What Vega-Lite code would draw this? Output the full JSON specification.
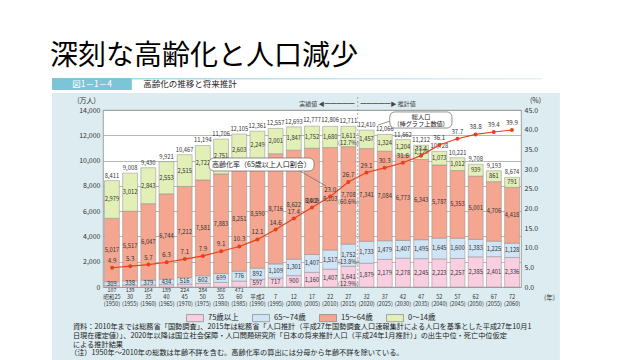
{
  "$schema": "https://vega.github.io/schema/vega-lite/v6.json",
  "width": 418,
  "height": 177,
  "autosize": {"type": "none"},
  "padding": {"left": 103, "top": 110, "right": 119, "bottom": 73},
  "background": "#dcecf0",
  "title": {"text": "深刻な高齢化と人口減少", "anchor": "start", "frame": "group", "dx": -53, "offset": 0, "dy": 71, "fontSize": 28, "fontWeight": "normal", "color": "#000000", "font": "Noto Sans CJK JP"},
  "config": {
    "font": "Noto Sans CJK JP",
    "view": {"fill": "white", "stroke": "#8a8a8a", "strokeWidth": 0.8},
    "text": {"font": "Noto Sans CJK JP"}
  },
  "datasets": {
    "one": [{}],
    "pop": [
      {"year":"1950","age":"75歳以上","v":107},{"year":"1950","age":"65～74歳","v":309},{"year":"1950","age":"15～64歳","v":5017},{"year":"1950","age":"0～14歳","v":2979},
      {"year":"1955","age":"75歳以上","v":139},{"year":"1955","age":"65～74歳","v":338},{"year":"1955","age":"15～64歳","v":5517},{"year":"1955","age":"0～14歳","v":3012},
      {"year":"1960","age":"75歳以上","v":164},{"year":"1960","age":"65～74歳","v":379},{"year":"1960","age":"15～64歳","v":6047},{"year":"1960","age":"0～14歳","v":2843},
      {"year":"1965","age":"75歳以上","v":189},{"year":"1965","age":"65～74歳","v":434},{"year":"1965","age":"15～64歳","v":6744},{"year":"1965","age":"0～14歳","v":2553},
      {"year":"1970","age":"75歳以上","v":224},{"year":"1970","age":"65～74歳","v":516},{"year":"1970","age":"15～64歳","v":7212},{"year":"1970","age":"0～14歳","v":2515},
      {"year":"1975","age":"75歳以上","v":284},{"year":"1975","age":"65～74歳","v":602},{"year":"1975","age":"15～64歳","v":7581},{"year":"1975","age":"0～14歳","v":2722},
      {"year":"1980","age":"75歳以上","v":366},{"year":"1980","age":"65～74歳","v":699},{"year":"1980","age":"15～64歳","v":7883},{"year":"1980","age":"0～14歳","v":2751},
      {"year":"1985","age":"75歳以上","v":471},{"year":"1985","age":"65～74歳","v":776},{"year":"1985","age":"15～64歳","v":8251},{"year":"1985","age":"0～14歳","v":2603},
      {"year":"1990","age":"75歳以上","v":597},{"year":"1990","age":"65～74歳","v":892},{"year":"1990","age":"15～64歳","v":8590},{"year":"1990","age":"0～14歳","v":2249},
      {"year":"1995","age":"75歳以上","v":717},{"year":"1995","age":"65～74歳","v":1109},{"year":"1995","age":"15～64歳","v":8716},{"year":"1995","age":"0～14歳","v":2001},
      {"year":"2000","age":"75歳以上","v":900},{"year":"2000","age":"65～74歳","v":1301},{"year":"2000","age":"15～64歳","v":8622},{"year":"2000","age":"0～14歳","v":1847},
      {"year":"2005","age":"75歳以上","v":1160},{"year":"2005","age":"65～74歳","v":1407},{"year":"2005","age":"15～64歳","v":8409},{"year":"2005","age":"0～14歳","v":1752},
      {"year":"2010","age":"75歳以上","v":1407},{"year":"2010","age":"65～74歳","v":1517},{"year":"2010","age":"15～64歳","v":8103},{"year":"2010","age":"0～14歳","v":1680},
      {"year":"2015","age":"75歳以上","v":1641,"p":"(12.9%)"},{"year":"2015","age":"65～74歳","v":1752,"p":"(13.8%)"},{"year":"2015","age":"15～64歳","v":7708,"p":"(60.6%)"},{"year":"2015","age":"0～14歳","v":1611,"p":"(12.7%)"},
      {"year":"2020","age":"75歳以上","v":1879},{"year":"2020","age":"65～74歳","v":1733},{"year":"2020","age":"15～64歳","v":7341},{"year":"2020","age":"0～14歳","v":1457},
      {"year":"2025","age":"75歳以上","v":2179},{"year":"2025","age":"65～74歳","v":1479},{"year":"2025","age":"15～64歳","v":7084},{"year":"2025","age":"0～14歳","v":1324},
      {"year":"2030","age":"75歳以上","v":2278},{"year":"2030","age":"65～74歳","v":1407},{"year":"2030","age":"15～64歳","v":6773},{"year":"2030","age":"0～14歳","v":1204},
      {"year":"2035","age":"75歳以上","v":2245},{"year":"2035","age":"65～74歳","v":1495},{"year":"2035","age":"15～64歳","v":6343},{"year":"2035","age":"0～14歳","v":1129},
      {"year":"2040","age":"75歳以上","v":2223},{"year":"2040","age":"65～74歳","v":1645},{"year":"2040","age":"15～64歳","v":5787},{"year":"2040","age":"0～14歳","v":1073},
      {"year":"2045","age":"75歳以上","v":2257},{"year":"2045","age":"65～74歳","v":1600},{"year":"2045","age":"15～64歳","v":5353},{"year":"2045","age":"0～14歳","v":1012},
      {"year":"2050","age":"75歳以上","v":2385},{"year":"2050","age":"65～74歳","v":1383},{"year":"2050","age":"15～64歳","v":5001},{"year":"2050","age":"0～14歳","v":939},
      {"year":"2055","age":"75歳以上","v":2401},{"year":"2055","age":"65～74歳","v":1225},{"year":"2055","age":"15～64歳","v":4706},{"year":"2055","age":"0～14歳","v":861},
      {"year":"2060","age":"75歳以上","v":2336},{"year":"2060","age":"65～74歳","v":1128},{"year":"2060","age":"15～64歳","v":4418},{"year":"2060","age":"0～14歳","v":791}
    ],
    "yr": [
      {"year":"1950","total":8411,"rate":4.9},{"year":"1955","total":9008,"rate":5.3},{"year":"1960","total":9430,"rate":5.7},
      {"year":"1965","total":9921,"rate":6.3},{"year":"1970","total":10467,"rate":7.1},{"year":"1975","total":11194,"rate":7.9},
      {"year":"1980","total":11706,"rate":9.1},{"year":"1985","total":12105,"rate":10.3},{"year":"1990","total":12361,"rate":12.1},
      {"year":"1995","total":12557,"rate":14.6},{"year":"2000","total":12693,"rate":17.4},{"year":"2005","total":12777,"rate":20.2},
      {"year":"2010","total":12806,"rate":23.0},{"year":"2015","total":12711,"rate":26.7},{"year":"2020","total":12410,"rate":29.1},
      {"year":"2025","total":12066,"rate":30.3},{"year":"2030","total":11662,"rate":31.6},{"year":"2035","total":11212,"rate":33.4},
      {"year":"2040","total":10728,"rate":36.1},{"year":"2045","total":10221,"rate":37.7},{"year":"2050","total":9708,"rate":38.8},
      {"year":"2055","total":9193,"rate":39.4},{"year":"2060","total":8674,"rate":39.9}
    ]
  },
  "layer": [
    {
      "layer": [
        {
          "data": {"name": "pop"},
          "mark": {"type": "bar", "stroke": "#8c8c8c", "strokeWidth": 0.5},
          "encoding": {
            "x": {"field": "year", "type": "ordinal", "scale": {"paddingInner": 0.18, "paddingOuter": 0.08},
                  "axis": {"labelExpr": "[split('昭和25,30,35,40,45,50,55,60,平成2,7,12,17,22,27,32,37,42,47,52,57,62,67,72', ',')[(toNumber(datum.value)-1950)/5], '(' + datum.value + ')']",
                           "labelAngle": 0, "labelFontSize": 5.6, "labelLineHeight": 7, "labelPadding": 7, "labelOverlap": false, "labelColor": "#333333",
                           "ticks": false, "domain": false, "grid": false,
                           "title": "(年)", "titleFontSize": 6.5, "titleFontWeight": "normal", "titleColor": "#333333", "titleX": 446, "titleY": 10, "titleAlign": "center", "titleBaseline": "middle"}},
            "y": {"field": "v", "type": "quantitative", "stack": "zero", "scale": {"domain": [0, 14000], "nice": false},
                  "axis": {"orient": "left", "values": [0, 2000, 4000, 6000, 8000, 10000, 12000, 14000], "format": ",d", "labelOverlap": false, "grid": true, "gridColor": "#9a9a9a", "gridWidth": 0.7, "ticks": false, "domain": false, "labelFontSize": 7, "labelColor": "#333333", "labelPadding": 3, "title": "(万人)", "titleAngle": 0, "titleFontSize": 7, "titleFontWeight": "normal", "titleColor": "#333333", "titleAlign": "center", "titleBaseline": "bottom", "titleX": -17, "titleY": -7}},
            "color": {"field": "age", "type": "nominal",
                      "scale": {"domain": ["75歳以上", "65～74歳", "15～64歳", "0～14歳"], "range": ["#f9cee0", "#cfe4f5", "#f5a690", "#e2efb6"]},
                      "legend": {"orient": "none", "legendX": 83, "legendY": 199, "direction": "horizontal", "title": null,
                                 "symbolType": "M-1,-0.42H1V0.42H-1Z", "symbolSize": 289, "symbolStrokeColor": "#777777", "symbolStrokeWidth": 0.6,
                                 "labelFontSize": 7.5, "labelColor": "#222222", "labelOffset": 4, "columnPadding": 12}},
            "order": {"field": "age", "sort": "descending"}
          }
        },
        {
          "data": {"name": "pop"},
          "mark": {"type": "text", "fontSize": 5.8, "color": "#333333", "baseline": "middle"},
          "encoding": {
            "x": {"field": "year", "type": "ordinal"},
            "y": {"field": "v", "type": "quantitative", "stack": "zero", "bandPosition": 0.5,
                  "axis": {"orient": "left", "values": [0, 2000, 4000, 6000, 8000, 10000, 12000, 14000], "format": ",d", "labelOverlap": false, "grid": true, "gridColor": "#9a9a9a", "gridWidth": 0.7, "ticks": false, "domain": false, "labelFontSize": 7, "labelColor": "#333333", "labelPadding": 3, "title": "(万人)", "titleAngle": 0, "titleFontSize": 7, "titleFontWeight": "normal", "titleColor": "#333333", "titleAlign": "center", "titleBaseline": "bottom", "titleX": -17, "titleY": -7}},
            "detail": {"field": "age"},
            "order": {"field": "age", "sort": "descending"},
            "text": {"condition": {"test": "datum.age === '75歳以上' && datum.v < 500", "value": ""}, "field": "v", "type": "quantitative", "format": ","}
          }
        },
        {
          "data": {"name": "pop"},
          "mark": {"type": "text", "fontSize": 5.3, "color": "#333333", "baseline": "top", "dy": 0.5},
          "encoding": {
            "x": {"field": "year", "type": "ordinal"},
            "y": {"field": "v", "type": "quantitative", "stack": "zero", "bandPosition": 0,
                  "axis": {"orient": "left", "values": [0, 2000, 4000, 6000, 8000, 10000, 12000, 14000], "format": ",d", "labelOverlap": false, "grid": true, "gridColor": "#9a9a9a", "gridWidth": 0.7, "ticks": false, "domain": false, "labelFontSize": 7, "labelColor": "#333333", "labelPadding": 3, "title": "(万人)", "titleAngle": 0, "titleFontSize": 7, "titleFontWeight": "normal", "titleColor": "#333333", "titleAlign": "center", "titleBaseline": "bottom", "titleX": -17, "titleY": -7}},
            "detail": {"field": "age"},
            "order": {"field": "age", "sort": "descending"},
            "text": {"condition": {"test": "!(datum.age === '75歳以上' && datum.v < 500)", "value": ""}, "field": "v", "type": "quantitative", "format": ","}
          }
        },
        {
          "data": {"name": "pop"},
          "transform": [{"filter": "isValid(datum.p)"}],
          "mark": {"type": "text", "fontSize": 5.8, "color": "#333333", "baseline": "middle", "dy": 7},
          "encoding": {
            "x": {"field": "year", "type": "ordinal"},
            "y": {"field": "v", "type": "quantitative", "stack": "zero", "bandPosition": 0.5,
                  "axis": {"orient": "left", "values": [0, 2000, 4000, 6000, 8000, 10000, 12000, 14000], "format": ",d", "labelOverlap": false, "grid": true, "gridColor": "#9a9a9a", "gridWidth": 0.7, "ticks": false, "domain": false, "labelFontSize": 7, "labelColor": "#333333", "labelPadding": 3, "title": "(万人)", "titleAngle": 0, "titleFontSize": 7, "titleFontWeight": "normal", "titleColor": "#333333", "titleAlign": "center", "titleBaseline": "bottom", "titleX": -17, "titleY": -7}},
            "detail": {"field": "age"},
            "order": {"field": "age", "sort": "descending"},
            "text": {"field": "p"}
          }
        },
        {
          "data": {"name": "yr"},
          "mark": {"type": "text", "fontSize": 5.8, "color": "#333333", "baseline": "bottom", "dy": -2},
          "encoding": {
            "x": {"field": "year", "type": "ordinal"},
            "y": {"field": "total", "type": "quantitative",
                  "axis": {"orient": "left", "values": [0, 2000, 4000, 6000, 8000, 10000, 12000, 14000], "format": ",d", "labelOverlap": false, "grid": true, "gridColor": "#9a9a9a", "gridWidth": 0.7, "ticks": false, "domain": false, "labelFontSize": 7, "labelColor": "#333333", "labelPadding": 3, "title": "(万人)", "titleAngle": 0, "titleFontSize": 7, "titleFontWeight": "normal", "titleColor": "#333333", "titleAlign": "center", "titleBaseline": "bottom", "titleX": -17, "titleY": -7}},
            "text": {"field": "total", "type": "quantitative", "format": ","}
          }
        }
      ]
    },
    {
      "data": {"name": "yr"},
      "layer": [
        {
          "mark": {"type": "line", "color": "#e8401c", "strokeWidth": 1.2},
          "encoding": {
            "x": {"field": "year", "type": "ordinal", "scale": {"paddingInner": 0.18, "paddingOuter": 0.08}, "axis": null},
            "y": {"field": "rate", "type": "quantitative", "scale": {"domain": [0, 45], "nice": false},
                  "axis": {"orient": "right", "values": [0, 5, 10, 15, 20, 25, 30, 35, 40, 45], "format": ".1f", "labelOverlap": false, "grid": false, "ticks": false, "domain": false, "labelFontSize": 7, "labelColor": "#333333", "labelPadding": 3, "title": "(%)", "titleAngle": 0, "titleFontSize": 7, "titleFontWeight": "normal", "titleColor": "#333333", "titleAlign": "center", "titleBaseline": "bottom", "titleX": 14, "titleY": -7}}
          }
        },
        {
          "mark": {"type": "circle", "color": "#e8401c", "size": 16, "opacity": 1},
          "encoding": {
            "x": {"field": "year", "type": "ordinal", "axis": null},
            "y": {"field": "rate", "type": "quantitative",
                  "axis": {"orient": "right", "values": [0, 5, 10, 15, 20, 25, 30, 35, 40, 45], "format": ".1f", "labelOverlap": false, "grid": false, "ticks": false, "domain": false, "labelFontSize": 7, "labelColor": "#333333", "labelPadding": 3, "title": "(%)", "titleAngle": 0, "titleFontSize": 7, "titleFontWeight": "normal", "titleColor": "#333333", "titleAlign": "center", "titleBaseline": "bottom", "titleX": 14, "titleY": -7}}
          }
        },
        {
          "mark": {"type": "text", "fontSize": 6.2, "color": "#333333", "baseline": "bottom", "dy": -4},
          "encoding": {
            "x": {"field": "year", "type": "ordinal", "axis": null},
            "y": {"field": "rate", "type": "quantitative",
                  "axis": {"orient": "right", "values": [0, 5, 10, 15, 20, 25, 30, 35, 40, 45], "format": ".1f", "labelOverlap": false, "grid": false, "ticks": false, "domain": false, "labelFontSize": 7, "labelColor": "#333333", "labelPadding": 3, "title": "(%)", "titleAngle": 0, "titleFontSize": 7, "titleFontWeight": "normal", "titleColor": "#333333", "titleAlign": "center", "titleBaseline": "bottom", "titleX": 14, "titleY": -7}},
            "text": {"field": "rate", "type": "quantitative", "format": ".1f"}
          }
        }
      ]
    },
    {
      "data": {"name": "one"},
      "layer": [
        {"mark": {"type": "rect", "fill": "white"},
         "encoding": {
           "x": {"datum": -0.2464, "type": "quantitative", "scale": {"domain": [0, 1], "nice": false, "zero": false}, "axis": null},
           "x2": {"datum": 1.2847},
           "y": {"datum": 1.096, "type": "quantitative", "scale": {"domain": [0, 1], "nice": false, "zero": false}, "axis": null},
           "y2": {"datum": 1.6215}}},
        {"mark": {"type": "rect", "fill": "white"},
         "encoding": {"x": {"datum": -0.2464, "type": "quantitative", "axis": null}, "x2": {"datum": -0.122},
                      "y": {"datum": -0.4125, "type": "quantitative", "axis": null}, "y2": {"datum": 1.096}}},
        {"mark": {"type": "rect", "fill": "white"},
         "encoding": {"x": {"datum": 1.093, "type": "quantitative", "axis": null}, "x2": {"datum": 1.2847},
                      "y": {"datum": -0.4125, "type": "quantitative", "axis": null}, "y2": {"datum": 1.096}}},
        {"mark": {"type": "rect", "fill": "#7cc5d7"},
         "encoding": {"x": {"datum": -0.122, "type": "quantitative", "axis": null}, "x2": {"datum": 0.069},
                      "y": {"datum": 1.113, "type": "quantitative", "axis": null}, "y2": {"datum": 1.181}}},
        {"mark": {"type": "rect", "fill": {"gradient": "linear", "stops": [{"offset": 0, "color": "#a6d8e4"}, {"offset": 1, "color": "#e2f2f6"}]}},
         "encoding": {"x": {"datum": 0.069, "type": "quantitative", "axis": null}, "x2": {"datum": 1.05},
                      "y": {"datum": 1.172, "type": "quantitative", "axis": null}, "y2": {"datum": 1.181}}},
        {"mark": {"type": "rule", "strokeDash": [2, 2], "color": "#9a9a9a", "strokeWidth": 0.8},
         "encoding": {"x": {"datum": 0.6094, "type": "quantitative", "axis": null},
                      "y": {"datum": 0, "type": "quantitative", "axis": null}, "y2": {"datum": 1.073}}},
        {"mark": {"type": "text", "text": "図1－1－4", "fontSize": 8.5, "color": "white", "align": "center", "baseline": "middle"},
         "encoding": {"x": {"datum": -0.026, "type": "quantitative", "axis": null}, "y": {"datum": 1.147, "type": "quantitative", "axis": null}}},
        {"mark": {"type": "text", "text": "高齢化の推移と将来推計", "fontSize": 8.5, "color": "#222222", "align": "left", "baseline": "middle"},
         "encoding": {"x": {"datum": 0.096, "type": "quantitative", "axis": null}, "y": {"datum": 1.147, "type": "quantitative", "axis": null}}},
        {"mark": {"type": "text", "text": "実績値 ◀━━━━━", "fontSize": 6, "color": "#444444", "align": "right", "baseline": "middle"},
         "encoding": {"x": {"datum": 0.602, "type": "quantitative", "axis": null}, "y": {"datum": 1.035, "type": "quantitative", "axis": null}}},
        {"mark": {"type": "text", "text": "━━━━━▶ 推計値", "fontSize": 6, "color": "#444444", "align": "left", "baseline": "middle"},
         "encoding": {"x": {"datum": 0.616, "type": "quantitative", "axis": null}, "y": {"datum": 1.035, "type": "quantitative", "axis": null}}},
        {"mark": {"type": "text", "text": "資料：2010年までは総務省「国勢調査」、2015年は総務省「人口推計（平成27年国勢調査人口速報集計による人口を基準とした平成27年10月1\n　　日現在確定値）」、2020年以降は国立社会保障・人口問題研究所「日本の将来推計人口（平成24年1月推計）」の出生中位・死亡中位仮定\n　　による推計結果", "lineBreak": "\n", "lineHeight": 8.8, "fontSize": 7.2, "color": "#222222", "align": "left", "baseline": "top"},
         "encoding": {"x": {"datum": -0.072, "type": "quantitative", "axis": null}, "y": {"datum": -0.203, "type": "quantitative", "axis": null}}},
        {"mark": {"type": "text", "text": "（注）1950年～2010年の総数は年齢不詳を含む。高齢化率の算出には分母から年齢不詳を除いている。", "fontSize": 7.2, "color": "#222222", "align": "left", "baseline": "top"},
         "encoding": {"x": {"datum": -0.079, "type": "quantitative", "axis": null}, "y": {"datum": -0.352, "type": "quantitative", "axis": null}}},
        {"mark": {"type": "rect", "fill": "white", "stroke": "#666666", "strokeWidth": 0.7, "cornerRadius": 5},
         "encoding": {"x": {"datum": 0.686, "type": "quantitative", "axis": null}, "x2": {"datum": 0.835},
                      "y": {"datum": 0.898, "type": "quantitative", "axis": null}, "y2": {"datum": 0.989}}},
        {"mark": {"type": "rule", "stroke": "#666666", "strokeWidth": 0.7},
         "encoding": {"x": {"datum": 0.686, "type": "quantitative", "axis": null}, "x2": {"datum": 0.658},
                      "y": {"datum": 0.937, "type": "quantitative", "axis": null}, "y2": {"datum": 0.915}}},
        {"mark": {"type": "text", "text": "総人口\n(棒グラフ上数値)", "lineBreak": "\n", "lineHeight": 7.5, "fontSize": 6.2, "color": "#222222", "align": "center", "baseline": "middle"},
         "encoding": {"x": {"datum": 0.761, "type": "quantitative", "axis": null}, "y": {"datum": 0.962, "type": "quantitative", "axis": null}}},
        {"mark": {"type": "rect", "fill": "white", "stroke": "#666666", "strokeWidth": 0.7, "cornerRadius": 5},
         "encoding": {"x": {"datum": 0.2536, "type": "quantitative", "axis": null}, "x2": {"datum": 0.5048},
                      "y": {"datum": 0.6554, "type": "quantitative", "axis": null}, "y2": {"datum": 0.7288}}},
        {"mark": {"type": "rule", "stroke": "#666666", "strokeWidth": 0.7},
         "encoding": {"x": {"datum": 0.471, "type": "quantitative", "axis": null}, "x2": {"datum": 0.5335},
                      "y": {"datum": 0.6554, "type": "quantitative", "axis": null}, "y2": {"datum": 0.5706}}},
        {"mark": {"type": "text", "text": "高齢化率（65歳以上人口割合）", "fontSize": 7, "color": "#222222", "align": "center", "baseline": "middle"},
         "encoding": {"x": {"datum": 0.379, "type": "quantitative", "axis": null}, "y": {"datum": 0.692, "type": "quantitative", "axis": null}}}
      ]
    }
  ],
  "resolve": {"scale": {"x": "independent", "y": "independent"}}
}
